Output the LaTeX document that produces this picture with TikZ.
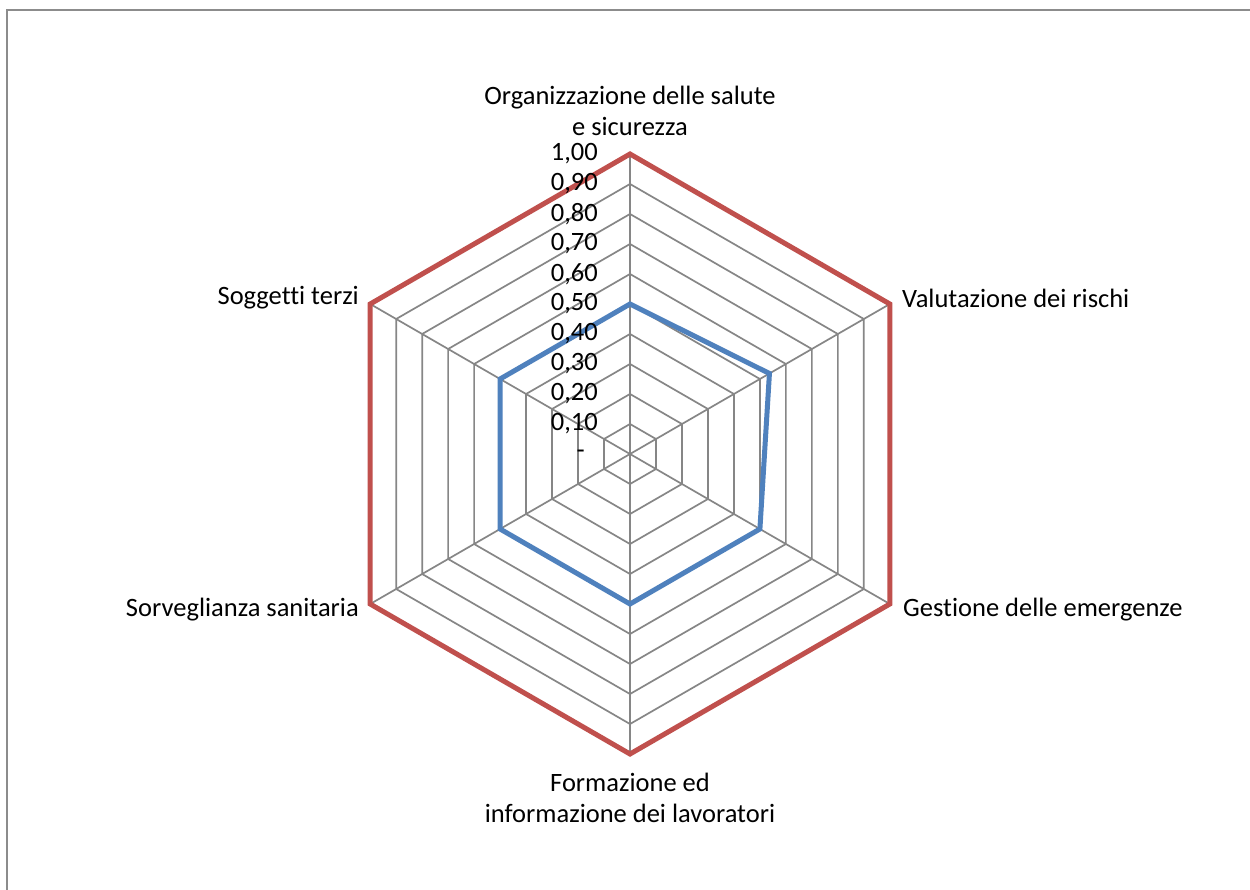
\documentclass[tikz,border=0pt]{standalone}
\usepackage{fontspec}
\setmainfont[Ligatures=NoCommon]{Carlito}
\usetikzlibrary{calc}
\definecolor{gridc}{HTML}{868686}
\definecolor{redc}{HTML}{C0504D}
\definecolor{bluec}{HTML}{4F81BD}
\definecolor{framec}{HTML}{8C8C8C}
\begin{document}
\begin{tikzpicture}[x=1pt,y=-1pt,
  lab/.style={inner sep=0pt,font=\fontsize{26.5}{31}\selectfont,text=black},
  gridline/.style={draw=gridc,line width=1.7pt},
  redline/.style={draw=redc,line width=5pt,line join=miter},
  blueline/.style={draw=bluec,line width=5pt,line join=miter}]
\useasboundingbox (0,0) rectangle (1250,890);
\fill[white] (0,0) rectangle (1250,890);
\draw[framec,line width=2.5pt] (7,895) -- (7,10) -- (1255,10);
\coordinate (c) at (630,454);
% rings
\foreach \k in {1,...,9}{
  \pgfmathsetmacro{\r}{30*\k}
  \draw[gridline] ($(c)+(90:\r)$) \foreach \a in {30,-30,-90,-150,150}{ -- ($(c)+(\a:\r)$)} -- cycle;
}
% spokes
\foreach \a/\n in {90/v1,30/v2,-30/v3,-90/v4,-150/v5,150/v6}{
  \coordinate (\n) at ($(c)+(\a:300)$);
  \draw[gridline] (c) -- (\n);
}
% outer red
\draw[redline] (v1) -- (v2) -- (v3) -- (v4) -- (v5) -- (v6) -- cycle;
% blue data
\coordinate (b1) at ($(c)+(90:150)$);
\coordinate (b2) at ($(c)+(30:150)$);
\coordinate (b3) at ($(c)+(-30:161)$);
\coordinate (b4) at ($(c)+(-90:150)$);
\coordinate (b5) at ($(c)+(-150:150)$);
\coordinate (b6) at ($(c)+(150:150)$);
\draw[blueline] (b1) -- (b2) -- (b3) -- (b4) -- (b5) -- (b6) -- cycle;
% axis labels
\foreach \k/\t in {1/0{,}10,2/0{,}20,3/0{,}30,4/0{,}40,5/0{,}50,6/0{,}60,7/0{,}70,8/0{,}80,9/0{,}90,10/1{,}00}{
  \node[lab,anchor=east] (t\k) at (598,{454-30*\k}) {\t};
}
\node[lab,anchor=east] (t0) at (585,454) {-};
% category labels
\node[lab,align=center,anchor=south] (l1) at (630,136) {Organizzazione delle salute\\e sicurezza};
\node[lab,anchor=west] (l2) at (902,298) {Valutazione dei rischi};
\node[lab,anchor=west] (l3) at (903,610) {Gestione delle emergenze};
\node[lab,align=center,anchor=north] (l4) at (630,773) {Formazione ed\\informazione dei lavoratori};
\node[lab,anchor=east] (l5) at (359,610) {Sorveglianza sanitaria};
\node[lab,anchor=east] (l6) at (359,298) {Soggetti terzi};
\end{tikzpicture}
\end{document}
